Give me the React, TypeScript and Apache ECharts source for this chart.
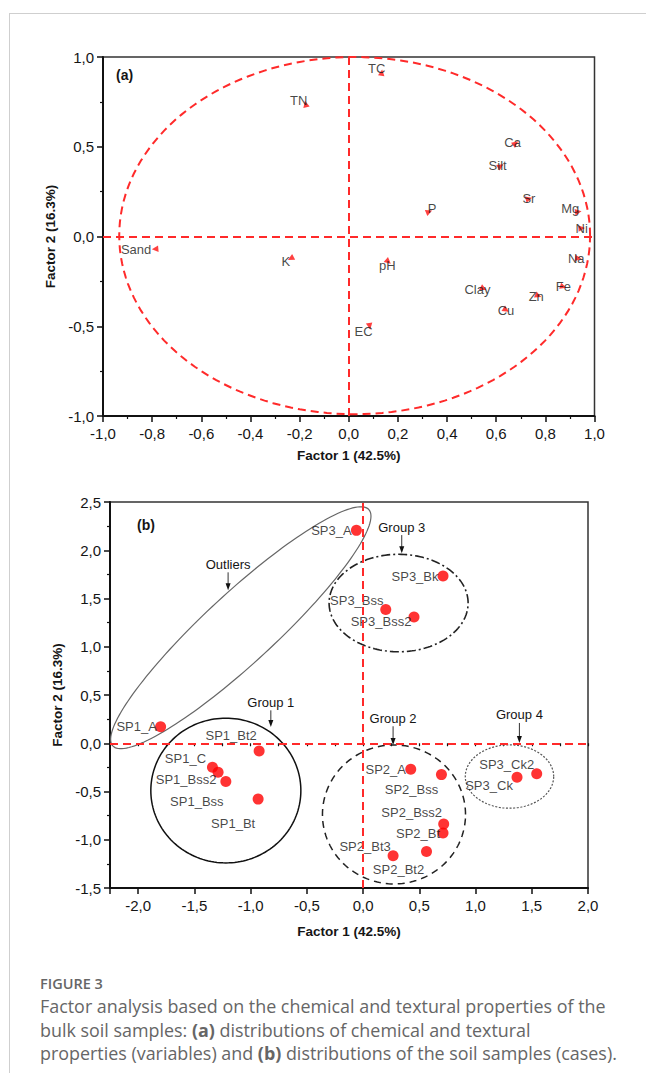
import React, { useEffect, useRef } from "react";
import * as echarts from "echarts";

// ---------- (a) variables: factor loadings ----------
const variableNames = ["TC", "TN", "Ca", "Silt", "Sr", "Mg", "Ni", "P", "Na", "pH", "Sand", "K", "Clay", "Zn", "Fe", "Cu", "EC"];
const variableF1 = [0.134, -0.175, 0.679, 0.618, 0.733, 0.934, 0.948, 0.327, 0.934, 0.161, -0.788, -0.236, 0.548, 0.771, 0.873, 0.64, 0.085];
const variableF2 = [0.913, 0.738, 0.519, 0.393, 0.211, 0.138, 0.046, 0.138, -0.122, -0.14, -0.07, -0.122, -0.29, -0.33, -0.28, -0.41, -0.5];

// reference circle of panel (a): centre and radii in factor units
const circleCenter = [0.024, 0.005];
const circleRadii = [0.958, 0.995];

// ---------- (b) samples: factor scores ----------
const sampleNames = ["SP1_A", "SP1_Bt2", "SP1_C", "SP1_Bss2", "SP1_Bss", "SP1_Bt", "SP3_A", "SP3_Bk", "SP3_Bss", "SP3_Bss2", "SP2_A", "SP2_Bss", "SP2_Bss2", "SP2_Bt", "SP2_Bt2", "SP2_Bt3", "SP3_Ck", "SP3_Ck2"];
const sampleF1 = [-1.8, -0.924, -1.339, -1.289, -1.22, -0.933, -0.059, 0.711, 0.202, 0.453, 0.424, 0.697, 0.717, 0.711, 0.564, 0.267, 1.369, 1.544];
const sampleF2 = [0.17, -0.08, -0.248, -0.3, -0.397, -0.579, 2.206, 1.733, 1.386, 1.309, -0.269, -0.325, -0.838, -0.931, -1.121, -1.165, -0.352, -0.317];

// grouping ellipses of panel (b): centre and two semi-axis vectors (factor units)
const groupNames = ["Outliers", "Group 1", "Group 2", "Group 3", "Group 4"];
const groupCenterF1 = [-1.087, -1.22, 0.275, 0.316, 1.302];
const groupCenterF2 = [1.197, -0.49, -0.738, 1.453, -0.345];
const groupAxisA = [[1.138, 1.225], [0.667, 0], [0.636, 0], [0.618, 0], [0.393, 0]];
const groupAxisB = [[0.211, -0.266], [0, 0.75], [0, 0.72], [0, 0.505], [0, 0.328]];
const groupLabelF1 = [-1.2, -0.82, 0.267, 0.344, 1.39];
const groupLabelF2 = [1.854, 0.424, 0.259, 2.24, 0.293];
const groupArrowTipF2 = [1.585, 0.168, -0.017, 1.968, 0.003];

// axis ranges / ticks
const axisA = { xMin: -1, xMax: 1, xStep: 0.2, yMin: -1, yMax: 1, yStep: 0.5 };
const axisB = { xMin: -2.25, xMax: 2, xStep: 0.5, yMin: -1.5, yMax: 2.5, yStep: 0.5 };

// ---------- styles (kept apart from the data) ----------
const variableLabelOffsets: number[][] = [[-5, -4], [-7, -4], [-3, -1], [-3, 0], [0, 0], [-8, -3], [0, 0], [3, -3], [-2, 0], [-1, 4], [-19, 0], [-5, 3], [-6, 1], [-2, 1], [0, 0], [0, 0], [-6, 5]];
const sampleLabelOffsets: number[][] = [[-24, 0], [-28, -15], [-27, -9], [-32, 7], [-29, 20], [-25, 24], [-25, 0], [-28, 0], [-29, -9], [-33, 5], [-25, 0], [-30, 15], [-32, -12], [-25, 0], [-28, 18], [-28, -9], [-28, 8], [-30, -9]];
const groupStroke = ["#666", "#111", "#222", "#222", "#555"];
const groupWidth = [1.2, 1.5, 1.5, 1.6, 1.2];
const groupDash: (number[] | null)[] = [null, null, [7, 5], [9, 3, 2, 3], [2, 1.6]];

const FONT = "'Liberation Sans', Arial, sans-serif";
const RED = "#ff2a2a";
const TXT = "#151515";

const fmt = (v: number) => {
  const r = Math.round(v * 10) / 10;
  return (r === 0 ? 0 : r).toFixed(1).replace(".", ",");
};

function ellipsePoints(api: any, c: number[], a: number[], b: number[]) {
  const pts: number[][] = [];
  const n = 160;
  for (let k = 0; k <= n; k++) {
    const t = (k / n) * Math.PI * 2;
    const ct = Math.cos(t), st = Math.sin(t);
    pts.push(api.coord([c[0] + a[0] * ct + b[0] * st, c[1] + a[1] * ct + b[1] * st]));
  }
  return pts;
}

const axisLine = { show: true, onZero: false, lineStyle: { color: "#111", width: 2 } };
const axisTick = { show: true, length: 6, lineStyle: { color: "#111", width: 1.5 } };
const minorTick = { show: true, splitNumber: 2, length: 3, lineStyle: { color: "#111", width: 1.2 } };
const xLabel = { color: TXT, fontSize: 15, fontFamily: FONT, margin: 10, formatter: (v: number) => fmt(v) };
const yLabel = { color: TXT, fontSize: 15, fontFamily: FONT, margin: 9, formatter: (v: number) => fmt(v) };
const nameStyle = { color: TXT, fontSize: 13.5, fontWeight: "bold" as const, fontFamily: FONT };

export default function App() {
  const ref = useRef<HTMLDivElement>(null);
  useEffect(() => {
    if (!ref.current) return;
    const chart = echarts.init(ref.current, undefined, { renderer: "svg" });
    const option: any = {
      animation: false,
      textStyle: { fontFamily: FONT },
      grid: [
        { left: 103, top: 57, width: 491.5, height: 359, show: true, borderColor: "#333", borderWidth: 1.5, backgroundColor: "transparent" },
        { left: 110, top: 502, width: 478, height: 386, show: true, borderColor: "#333", borderWidth: 1.5, backgroundColor: "transparent" },
      ],
      xAxis: [
        {
          type: "value", gridIndex: 0, min: axisA.xMin, max: axisA.xMax, interval: axisA.xStep,
          axisLine, axisTick, minorTick, axisLabel: xLabel, splitLine: { show: false },
          name: "Factor 1 (42.5%)", nameLocation: "middle", nameGap: 32, nameTextStyle: nameStyle,
        },
        {
          type: "value", gridIndex: 1, position: "bottom", min: axisB.xMin, max: axisB.xMax,
          splitNumber: 8, minInterval: axisB.xStep, maxInterval: axisB.xStep,
          axisLine, axisTick, splitLine: { show: false },
          axisLabel: {
            ...xLabel,
            formatter: (v: number) => (Math.abs(v / axisB.xStep - Math.round(v / axisB.xStep)) < 1e-6 ? fmt(v) : ""),
          },
          name: "Factor 1 (42.5%)", nameLocation: "middle", nameGap: 36, nameTextStyle: nameStyle,
        },
        {
          type: "value", gridIndex: 1, position: "bottom", min: axisB.xMin, max: axisB.xMax, interval: axisB.xStep / 2,
          axisLine: { show: false }, axisTick: { show: true, length: 3, lineStyle: { color: "#111", width: 1.2 } },
          axisLabel: { show: false }, splitLine: { show: false },
        },
      ],
      yAxis: [
        {
          type: "value", gridIndex: 0, min: axisA.yMin, max: axisA.yMax, interval: axisA.yStep,
          axisLine, axisTick, minorTick, axisLabel: yLabel, splitLine: { show: false },
          name: "Factor 2 (16.3%)", nameLocation: "middle", nameGap: 36, nameTextStyle: nameStyle,
        },
        {
          type: "value", gridIndex: 1, min: axisB.yMin, max: axisB.yMax, interval: axisB.yStep,
          axisLine, axisTick, minorTick, axisLabel: yLabel, splitLine: { show: false },
          name: "Factor 2 (16.3%)", nameLocation: "middle", nameGap: 41, nameTextStyle: nameStyle,
        },
      ],
      graphic: [
        { type: "text", left: 116, top: 68, style: { text: "(a)", fill: TXT, font: `bold 14px ${FONT}` } },
        { type: "text", left: 137, top: 518, style: { text: "(b)", fill: TXT, font: `bold 14px ${FONT}` } },
      ],
      series: [
        {
          type: "custom", name: "circle", xAxisIndex: 0, yAxisIndex: 0, clip: false, silent: true, z: 1,
          data: [circleCenter],
          renderItem: (params: any, api: any) => ({
            type: "polygon",
            shape: { points: ellipsePoints(api, circleCenter, [circleRadii[0], 0], [0, circleRadii[1]]) },
            style: { fill: "none", stroke: RED, lineWidth: 2, lineDash: [8, 5] },
          }),
        },
        {
          type: "scatter", name: "variables", xAxisIndex: 0, yAxisIndex: 0, z: 3,
          symbol: "triangle", symbolSize: 6.5,
          itemStyle: { color: "#ff1010" },
          data: variableNames.map((n, i) => ({
            name: n,
            value: [variableF1[i], variableF2[i]],
            symbolRotate: (Math.atan2(variableF2[i], variableF1[i]) * 180) / Math.PI - 90,
            label: { offset: variableLabelOffsets[i] },
          })),
          label: {
            show: true, position: "inside", formatter: (p: any) => p.name,
            color: TXT, fontSize: 13, fontFamily: FONT,
          },
          markLine: {
            silent: true, symbol: "none", label: { show: false },
            lineStyle: { color: RED, width: 2, type: [8, 5] },
            data: [{ xAxis: 0 }, { yAxis: 0 }],
          },
        },
        {
          type: "custom", name: "groups", xAxisIndex: 1, yAxisIndex: 1, clip: false, silent: true, z: 1,
          data: groupNames.map((n, i) => [groupCenterF1[i], groupCenterF2[i]]),
          renderItem: (params: any, api: any) => {
            const i = params.dataIndex;
            return {
              type: "polygon",
              shape: { points: ellipsePoints(api, [groupCenterF1[i], groupCenterF2[i]], groupAxisA[i], groupAxisB[i]) },
              style: { fill: "none", stroke: groupStroke[i], lineWidth: groupWidth[i], lineDash: groupDash[i] || undefined },
            };
          },
        },
        {
          type: "custom", name: "group labels", xAxisIndex: 1, yAxisIndex: 1, clip: false, silent: true, z: 2,
          data: groupNames.map((n, i) => [groupLabelF1[i], groupLabelF2[i], groupArrowTipF2[i]]),
          renderItem: (params: any, api: any) => {
            const i = params.dataIndex;
            const t = api.coord([groupLabelF1[i], groupLabelF2[i]]);
            const tip = api.coord([groupLabelF1[i], groupArrowTipF2[i]]);
            return {
              type: "group",
              children: [
                {
                  type: "text",
                  style: { text: groupNames[i], x: t[0], y: t[1], fill: TXT, font: `13px ${FONT}`, align: "center", verticalAlign: "middle", textAlign: "center", textVerticalAlign: "middle" },
                },
                { type: "line", shape: { x1: t[0], y1: t[1] + 8, x2: tip[0], y2: tip[1] - 5 }, style: { stroke: "#333", lineWidth: 1 } },
                { type: "polygon", shape: { points: [[tip[0] - 2.5, tip[1] - 7], [tip[0] + 2.5, tip[1] - 7], [tip[0], tip[1]]] }, style: { fill: "#111" } },
              ],
            };
          },
        },
        {
          type: "scatter", name: "samples", xAxisIndex: 1, yAxisIndex: 1, z: 3,
          symbol: "circle", symbolSize: 11,
          itemStyle: { color: "#ff0000" },
          data: sampleNames.map((n, i) => ({
            name: n,
            value: [sampleF1[i], sampleF2[i]],
            label: { offset: sampleLabelOffsets[i] },
          })),
          label: {
            show: true, position: "inside", formatter: (p: any) => p.name,
            color: TXT, fontSize: 13, fontFamily: FONT,
          },
          markLine: {
            silent: true, symbol: "none", label: { show: false },
            lineStyle: { color: RED, width: 2, type: [8, 5] },
            data: [{ xAxis: 0 }, { yAxis: 0 }],
          },
        },
      ],
    };
    chart.setOption(option);
    return () => chart.dispose();
  }, []);

  return (
    <div style={{ position: "absolute", left: 0, top: 0, width: 646, height: 1073, overflow: "hidden", background: "#fff" }}>
      <div style={{ position: "absolute", left: 9, top: 13, width: 637, height: 1060, boxSizing: "border-box", borderTop: "1px solid #cfcfcf", borderLeft: "1px solid #cfcfcf" }} />
      <div ref={ref} style={{ position: "absolute", left: 0, top: 0, width: 646, height: 960 }} />
      <div style={{ position: "absolute", left: 40, top: 974, fontFamily: "'Open Sans', sans-serif", color: "#666" }}>
        <div style={{ fontSize: 14.5, fontWeight: 600, lineHeight: "20px" }}>FIGURE 3</div>
        <div style={{ fontSize: 17.9, lineHeight: "23.5px", marginTop: 1, whiteSpace: "nowrap" }}>
          Factor analysis based on the chemical and textural properties of the
          <br />
          bulk soil samples: <b style={{ fontWeight: 700 }}>(a)</b> distributions of chemical and textural
          <br />
          properties (variables) and <b style={{ fontWeight: 700 }}>(b)</b> distributions of the soil samples (cases).
        </div>
      </div>
    </div>
  );
}
